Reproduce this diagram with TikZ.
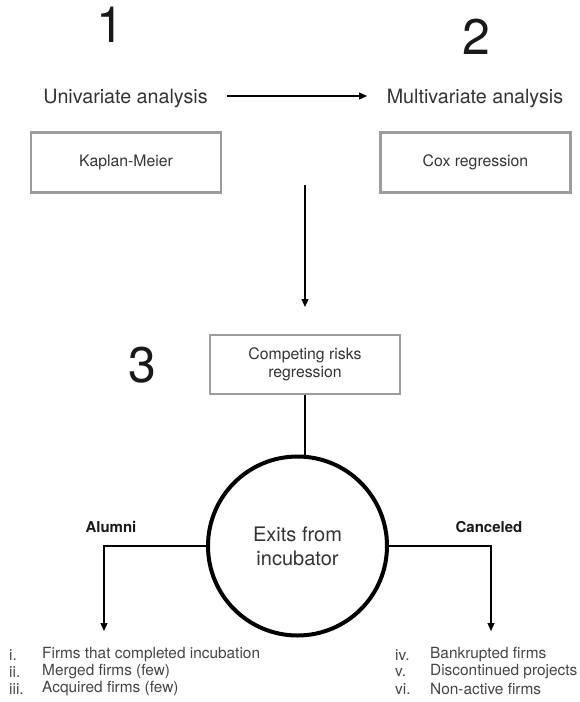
\documentclass[tikz,border=0pt]{standalone}
\usepackage{fontspec}
\setmainfont{TeX Gyre Heros}
\usetikzlibrary{arrows.meta}
\definecolor{txt}{HTML}{333333}
\definecolor{listtxt}{HTML}{444444}
\definecolor{boxgray}{HTML}{9C9C9C}
\begin{document}
\begin{tikzpicture}[x=1pt,y=-1pt,
  stepnum/.style={font=\fontsize{50}{50}\selectfont, text=black!90, inner sep=0},
  heading/.style={font=\fontsize{19.7}{22}\selectfont, text=txt, inner sep=0, anchor=base},
  methodbox/.style={draw=boxgray, line width=2.2pt, minimum width=190pt,
    minimum height=60pt, inner sep=0, font=\fontsize{15.8}{18.5}\selectfont,
    text=txt, align=center},
  exitcircle/.style={circle, draw=black, line width=4pt, minimum size=179pt,
    inner sep=0, font=\fontsize{20}{24}\selectfont, text=txt, align=center},
  branch/.style={font=\bfseries\fontsize{15}{18}\selectfont, text=black!90, inner sep=0},
  listitem/.style={font=\fontsize{15.4}{18}\selectfont, text=listtxt, inner sep=0, anchor=west},
  link/.style={draw=black, line width=1.2pt},
  arrowlink/.style={link, -{Triangle[length=8pt,width=7pt]}}
]
\useasboundingbox (0,0) rectangle (580,702);

% step numbers
\node[stepnum] (n1) at (110,25) {1};
\node[stepnum] (n2) at (476,37) {2};
\node[stepnum] (n3) at (142,365.5) {3};

% analysis headings
\node[heading] (uni) at (125.5,103) {Univariate analysis};
\node[heading] (multi) at (475,103) {Multivariate analysis};
\coordinate (hstart) at (227,96);
\coordinate (hend) at (367,96);
\draw[arrowlink] (hstart) -- (hend);

% method boxes
\node[methodbox] (km) at (126,162.5) {Kaplan-Meier};
\node[methodbox] (cox) at (475.5,162.5) {Cox regression};
\node[methodbox, minimum height=59pt] (crr) at (305,364.5)
  {Competing risks\\regression};

\coordinate (vtop) at (305,185);
\coordinate (vtip) at (305,307);
\draw[arrowlink] (vtop) -- (vtip);

% exits
\node[exitcircle] (exit) at (297.5,546) {Exits from\\incubator};
\draw[link] (crr.south) -- (crr.south |- exit.north);

\coordinate (ltip) at (104,631);
\coordinate (rtip) at (491,631);
\draw[arrowlink] (exit.west) -| (ltip);
\draw[arrowlink] (exit.east) -| (rtip);

\node[branch] (alumni) at (111,527) {Alumni};
\node[branch] (canceled) at (489,527) {Canceled};

% exit categories
\node[listitem] (l1n) at (9,655) {i.};
\node[listitem] (l1t) at (42,655) {Firms that completed incubation};
\node[listitem] (l2n) at (9,672) {ii.};
\node[listitem] (l2t) at (42,672) {Merged firms (few)};
\node[listitem] (l3n) at (9,689) {iii.};
\node[listitem] (l3t) at (42,689) {Acquired firms (few)};

\node[listitem] (r1n) at (395,655) {iv.};
\node[listitem] (r1t) at (430,655) {Bankrupted firms};
\node[listitem] (r2n) at (395,672) {v.};
\node[listitem] (r2t) at (430,672) {Discontinued projects};
\node[listitem] (r3n) at (395,689) {vi.};
\node[listitem] (r3t) at (430,689) {Non-active firms};
\end{tikzpicture}
\end{document}
